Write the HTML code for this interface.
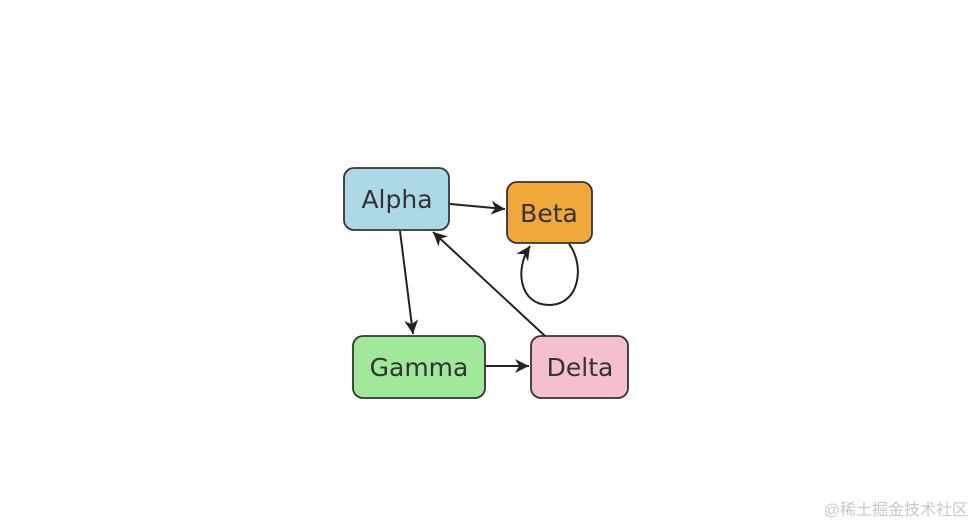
<!DOCTYPE html>
<html><head><meta charset="utf-8"><style>
html,body{margin:0;padding:0;background:#fff;}
</style></head><body>
<svg width="978" height="524" viewBox="0 0 978 524" xmlns="http://www.w3.org/2000/svg" style="display:block">
<defs><marker id="a" viewBox="0 0 10 10" refX="10" refY="5" markerWidth="16" markerHeight="14" orient="auto" markerUnits="userSpaceOnUse"><path d="M0,0 L10,5 L0,10 L3,5 Z" fill="#222"/></marker></defs>
<g stroke="#222" stroke-width="2" fill="none">
<line x1="450" y1="204" x2="505" y2="209" marker-end="url(#a)"/>
<line x1="400" y1="231" x2="413" y2="334" marker-end="url(#a)"/>
<line x1="545" y1="336" x2="433" y2="232" marker-end="url(#a)"/>
<line x1="485" y1="366" x2="529" y2="366" marker-end="url(#a)"/>
<path d="M569,244 C585,265 580,305 549,305 C520,305 514,270 530,246" marker-end="url(#a)"/>
</g>
<g stroke="#333" stroke-width="1.8">
<rect x="344" y="168" width="105" height="62" rx="10" fill="#add8e6"/>
<rect x="507" y="182" width="85" height="61" rx="10" fill="#f0a83a"/>
<rect x="353" y="336" width="132" height="62" rx="10" fill="#a0e89a"/>
<rect x="531" y="336" width="97" height="62" rx="10" fill="#f5bfcc"/>
</g>
<g font-family="'DejaVu Sans','Liberation Sans',sans-serif" font-size="25" text-anchor="middle" fill="#333">
<text x="397" y="208">Alpha</text>
<text x="549" y="222">Beta</text>
<text x="419" y="376">Gamma</text>
<text x="580" y="376">Delta</text>
</g>
<text x="968" y="515" text-anchor="end" font-family="'Liberation Sans','Noto Sans CJK SC',sans-serif" font-size="16" fill="#c8c8c8">@稀土掘金技术社区</text>
</svg>
</body></html>
